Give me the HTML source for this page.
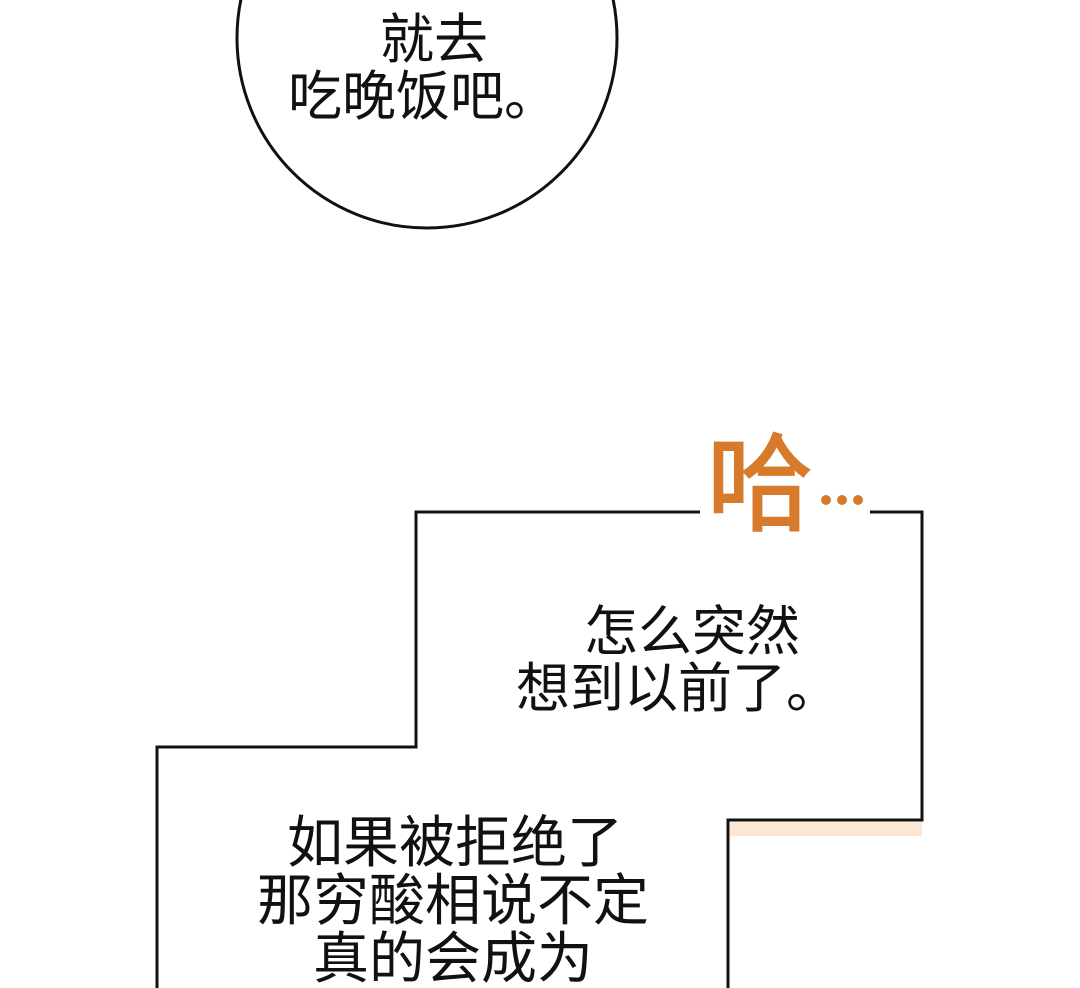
<!DOCTYPE html>
<html><head><meta charset="utf-8"><style>
html,body{margin:0;padding:0;background:#fff;}
body{width:1080px;height:988px;overflow:hidden;position:relative;}
svg{position:absolute;left:0;top:0;}
text{font-family:"Liberation Sans","Noto Sans CJK SC",sans-serif;fill:#111;}
</style></head><body>
<svg width="1080" height="988" viewBox="0 0 1080 988">
<circle cx="427" cy="38" r="190" fill="#fff" stroke="#111" stroke-width="3"/>
<text x="434" y="-6" font-size="54" text-anchor="middle">不如现在</text>
<text x="434" y="58" font-size="54" text-anchor="middle">就去</text>
<text x="423" y="115" font-size="54" text-anchor="middle">吃晚饭吧。</text>

<rect x="730" y="822" width="192" height="14" fill="#fde6d2"/>
<path d="M157,990 L157,747 L416,747 L416,512 L922,512 L922,820 L728,820 L728,990" fill="none" stroke="#111" stroke-width="3"/>

<text x="692" y="650" font-size="54" text-anchor="middle">怎么突然</text>
<text x="678" y="707" font-size="54" text-anchor="middle">想到以前了。</text>

<text x="455" y="862" font-size="56" text-anchor="middle">如果被拒绝了</text>
<text x="453" y="920" font-size="56" text-anchor="middle">那穷酸相说不定</text>
<text x="453" y="978" font-size="56" text-anchor="middle">真的会成为</text>

<rect x="700" y="500" width="170" height="24" fill="#fff"/>
<text x="760" y="522" font-size="106" text-anchor="middle" style="fill:#d87a2c;stroke:#d87a2c;stroke-width:2">哈</text>
<circle cx="826" cy="500" r="5" fill="#d87a2c"/>
<circle cx="842" cy="500" r="5" fill="#d87a2c"/>
<circle cx="858" cy="500" r="5" fill="#d87a2c"/>
</svg>
</body></html>
